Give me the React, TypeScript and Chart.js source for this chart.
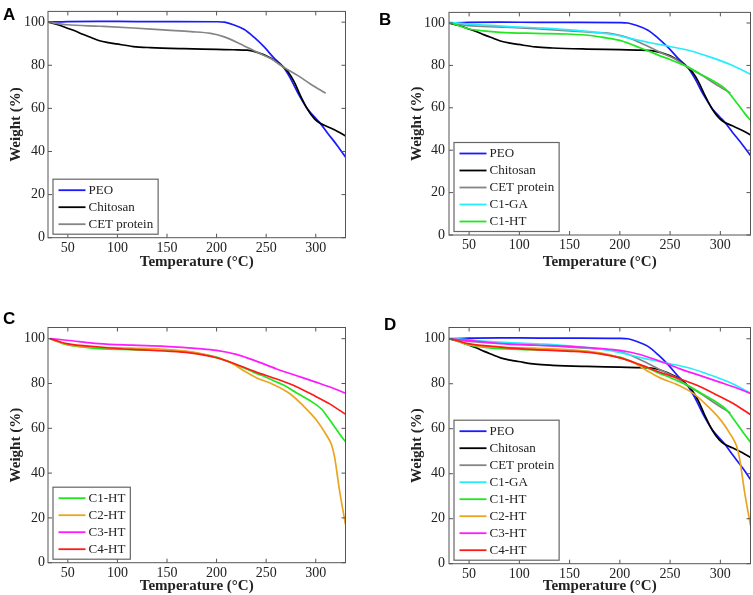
import React, { useEffect, useRef } from "react";
import { Chart, registerables } from "chart.js";

Chart.register(...registerables);

// ---------- data ----------
const X_TICKS = [50, 100, 150, 200, 250, 300];
const Y_TICKS = [0, 20, 40, 60, 80, 100];
const X_MIN = 30;
const X_MAX = 330;
const Y_MIN = 0;
const Y_MAX = 105;

const PEO_T = [30, 50, 80, 120, 160, 200, 208, 217, 228, 238, 248, 258, 267.5, 275, 283, 292, 300, 304, 312, 322, 331];
const PEO_W = [100, 100.3, 100.4, 100.3, 100.3, 100.2, 100, 98.8, 96.6, 92.9, 88.5, 83.3, 79.1, 73.5, 66.3, 59.6, 55.4, 53.4, 48.5, 42.6, 36.8];

const CHITOSAN_T = [30, 40, 49, 57, 65, 74, 82, 91, 99, 116, 133, 167, 200, 217, 231, 241, 255, 267.5, 272, 278, 285, 292, 299, 304, 312, 322, 331];
const CHITOSAN_W = [100, 98.8, 97.3, 96, 94.4, 92.8, 91.4, 90.5, 89.9, 88.7, 88.2, 87.7, 87.4, 87.2, 87, 86, 83.3, 79.1, 77, 72.5, 65.5, 59.3, 55, 53.2, 51.5, 49.3, 47];

const CET_T = [30, 49, 82, 116, 150, 174, 194, 207, 224, 241, 255, 267.5, 282, 295, 310];
const CET_W = [100, 98.8, 98.1, 97.3, 96.3, 95.6, 94.8, 93.3, 89.9, 86, 83, 79.1, 75.2, 71.2, 67];

const C1GA_T = [30, 57, 90, 124, 157, 190, 209, 224, 230, 250, 270, 290, 310, 331];
const C1GA_W = [100.3, 99.2, 98.3, 97.6, 96.5, 94.8, 92.9, 91.3, 90.7, 88.9, 86.9, 83.9, 80.4, 75.6];

const C1HT_T = [32, 49, 64, 81, 115, 148, 173, 182, 200, 210, 220, 230, 240, 250, 260, 268, 280, 294, 306, 312, 318, 324, 331];
const C1HT_W = [100, 97.3, 96.3, 95.6, 95.1, 94.8, 94, 93.3, 91.8, 90.2, 88.3, 86.5, 84.5, 82.8, 80.8, 79.2, 76, 72.4, 68.5, 65, 61.3, 57.5, 53.5];

const C2HT_T = [32, 49, 81, 115, 148, 182, 200, 213, 227, 240, 257, 274, 287, 301, 311, 316, 319, 324, 330];
const C2HT_W = [100, 97.5, 96.3, 95.8, 95.2, 93.6, 91.5, 89.6, 85.8, 82.6, 79.6, 75.4, 70.2, 63.5, 56.8, 52.5, 47.1, 32.2, 17];

const C3HT_T = [32, 49, 81, 115, 148, 182, 200, 220, 240, 260, 280, 300, 315, 331];
const C3HT_W = [100, 99.3, 97.8, 97.1, 96.6, 95.6, 94.8, 93, 90, 86.6, 83.6, 80.6, 78.3, 75.5];

const C4HT_T = [32, 49, 81, 115, 148, 173, 200, 220, 240, 260, 280, 300, 314, 331];
const C4HT_W = [100, 97.8, 96.3, 95.2, 94.5, 93.7, 91.5, 88.5, 85.1, 82.1, 78.7, 74.2, 70.9, 66];

const SERIES = [
  { label: "PEO", t: PEO_T, w: PEO_W, color: "#1a1aff" },
  { label: "Chitosan", t: CHITOSAN_T, w: CHITOSAN_W, color: "#000000" },
  { label: "CET protein", t: CET_T, w: CET_W, color: "#858585" },
  { label: "C1-GA", t: C1GA_T, w: C1GA_W, color: "#22eeff" },
  { label: "C1-HT", t: C1HT_T, w: C1HT_W, color: "#1ee81e" },
  { label: "C2-HT", t: C2HT_T, w: C2HT_W, color: "#eaa520" },
  { label: "C3-HT", t: C3HT_T, w: C3HT_W, color: "#ff1aff" },
  { label: "C4-HT", t: C4HT_T, w: C4HT_W, color: "#ff1a1a" },
];

const PANEL_A = ["PEO", "Chitosan", "CET protein"];
const PANEL_B = ["PEO", "Chitosan", "CET protein", "C1-GA", "C1-HT"];
const PANEL_C = ["C1-HT", "C2-HT", "C3-HT", "C4-HT"];
const PANEL_D = ["PEO", "Chitosan", "CET protein", "C1-GA", "C1-HT", "C2-HT", "C3-HT", "C4-HT"];

const X_TITLE = "Temperature (°C)";
const Y_TITLE = "Weight (%)";

// ---------- plugin: frame, inward ticks, boxed legend, panel letter ----------
const decorPlugin = {
  id: "decor",
  afterDraw(chart: any, _args: any, opts: any) {
    const { ctx, chartArea: a, scales } = chart;
    ctx.save();
    ctx.strokeStyle = "#555";
    ctx.lineWidth = 1;
    ctx.strokeRect(a.left, a.top, a.right - a.left, a.bottom - a.top);
    ctx.beginPath();
    X_TICKS.forEach((v) => {
      const x = scales.x.getPixelForValue(v);
      ctx.moveTo(x, a.bottom);
      ctx.lineTo(x, a.bottom - 4);
      ctx.moveTo(x, a.top);
      ctx.lineTo(x, a.top + 4);
    });
    Y_TICKS.forEach((v) => {
      const y = scales.y.getPixelForValue(v);
      ctx.moveTo(a.left, y);
      ctx.lineTo(a.left + 4, y);
      ctx.moveTo(a.right, y);
      ctx.lineTo(a.right - 4, y);
    });
    ctx.stroke();

    const items = opts.items as { label: string; color: string }[];
    ctx.font = '13px "Liberation Serif"';
    const maxW = Math.max(...items.map((i) => ctx.measureText(i.label).width));
    const rowH = 17;
    const boxLeft = a.left + 5;
    const boxBottom = a.bottom - 3.5;
    const boxH = 21 + rowH * (items.length - 1);
    const boxTop = boxBottom - boxH;
    const lineX0 = boxLeft + 5.5;
    const lineX1 = lineX0 + 27;
    const textX = lineX1 + 3;
    const boxW = textX + maxW + 5 - boxLeft;
    ctx.fillStyle = "#fff";
    ctx.fillRect(boxLeft, boxTop, boxW, boxH);
    ctx.strokeStyle = "#666";
    ctx.lineWidth = 1.2;
    ctx.strokeRect(boxLeft, boxTop, boxW, boxH);
    items.forEach((it, i) => {
      const y = boxTop + 11 + i * rowH;
      ctx.strokeStyle = it.color;
      ctx.lineWidth = 1.8;
      ctx.beginPath();
      ctx.moveTo(lineX0, y);
      ctx.lineTo(lineX1, y);
      ctx.stroke();
      ctx.fillStyle = "#222";
      ctx.textBaseline = "middle";
      ctx.textAlign = "left";
      ctx.fillText(it.label, textX, y + 0.5);
    });

    ctx.font = 'bold 17px "Liberation Sans"';
    ctx.fillStyle = "#000";
    ctx.textBaseline = "alphabetic";
    ctx.fillText(opts.letter, opts.letterX, opts.letterY);
    ctx.restore();
  },
};

type PanelProps = {
  left: number;
  top: number;
  width: number;
  height: number;
  names: string[];
  letter: string;
  letterX: number;
  letterY: number;
  padding: { left: number; right: number; top: number; bottom: number };
  yWidth: number;
  xHeight: number;
  yTickPad: number;
};

function Panel(p: PanelProps) {
  const ref = useRef<HTMLCanvasElement | null>(null);
  useEffect(() => {
    if (!ref.current) return;
    const list = p.names.map((n) => SERIES.find((s) => s.label === n)!);
    const chart = new Chart(ref.current, {
      type: "line",
      data: {
        datasets: list.map((s, i) => ({
          label: s.label,
          data: s.t.map((t, k) => ({ x: t, y: s.w[k] })),
          borderColor: s.color,
          backgroundColor: s.color,
          borderWidth: 1.7,
          pointRadius: 0,
          fill: false,
          cubicInterpolationMode: "monotone" as const,
          order: list.length - i,
        })),
      },
      options: {
        responsive: false,
        animation: false,
        devicePixelRatio: 1,
        layout: { padding: p.padding },
        plugins: {
          legend: { display: false },
          tooltip: { enabled: false },
          decor: {
            items: list.map((s) => ({ label: s.label, color: s.color })),
            letter: p.letter,
            letterX: p.letterX,
            letterY: p.letterY,
          },
        } as any,
        scales: {
          x: {
            type: "linear",
            min: X_MIN,
            max: X_MAX,
            afterBuildTicks: (s: any) => {
              s.ticks = X_TICKS.map((v) => ({ value: v }));
            },
            afterFit: (s: any) => {
              s.height = p.xHeight;
            },
            grid: { display: false, drawTicks: false },
            border: { display: false },
            ticks: {
              padding: 2,
              color: "#222",
              font: { family: "Liberation Serif", size: 14 },
              maxRotation: 0,
            },
            title: {
              display: true,
              text: X_TITLE,
              color: "#222",
              padding: { top: 0, bottom: 0 },
              font: { family: "Liberation Serif", size: 15, weight: "bold" },
            },
          },
          y: {
            type: "linear",
            min: Y_MIN,
            max: Y_MAX,
            afterBuildTicks: (s: any) => {
              s.ticks = Y_TICKS.map((v) => ({ value: v }));
            },
            afterFit: (s: any) => {
              s.width = p.yWidth;
            },
            grid: { display: false, drawTicks: false },
            border: { display: false },
            ticks: {
              padding: p.yTickPad,
              color: "#222",
              font: { family: "Liberation Serif", size: 14 },
            },
            title: {
              display: true,
              text: Y_TITLE,
              color: "#222",
              padding: { top: 7, bottom: 0 },
              font: { family: "Liberation Serif", size: 15, weight: "bold" },
            },
          },
        },
      },
      plugins: [decorPlugin as any],
    });
    return () => chart.destroy();
  }, []);
  return (
    <canvas
      ref={ref}
      width={p.width}
      height={p.height}
      style={{ position: "absolute", left: p.left, top: p.top, width: p.width, height: p.height }}
    />
  );
}

export default function App() {
  return (
    <div style={{ position: "fixed", left: 0, top: 0, width: 753, height: 595, background: "#fff" }}>
      <Panel
        left={0} top={0} width={376} height={297}
        names={PANEL_A} letter="A" letterX={3} letterY={20}
        padding={{ left: 0, right: 30.5, top: 1, bottom: 26 }}
        yWidth={48} xHeight={33.3} yTickPad={3}
      />
      <Panel
        left={376} top={0} width={377} height={297}
        names={PANEL_B} letter="B" letterX={3} letterY={25}
        padding={{ left: 25, right: 2.5, top: 1.2, bottom: 26 }}
        yWidth={48} xHeight={36} yTickPad={4}
      />
      <Panel
        left={0} top={297} width={376} height={298}
        names={PANEL_C} letter="C" letterX={3} letterY={27}
        padding={{ left: 0, right: 30.5, top: 30.5, bottom: 0 }}
        yWidth={48} xHeight={32.3} yTickPad={3}
      />
      <Panel
        left={376} top={297} width={377} height={298}
        names={PANEL_D} letter="D" letterX={8} letterY={33}
        padding={{ left: 25, right: 2.5, top: 30.5, bottom: 0 }}
        yWidth={48} xHeight={31.3} yTickPad={4}
      />
    </div>
  );
}
